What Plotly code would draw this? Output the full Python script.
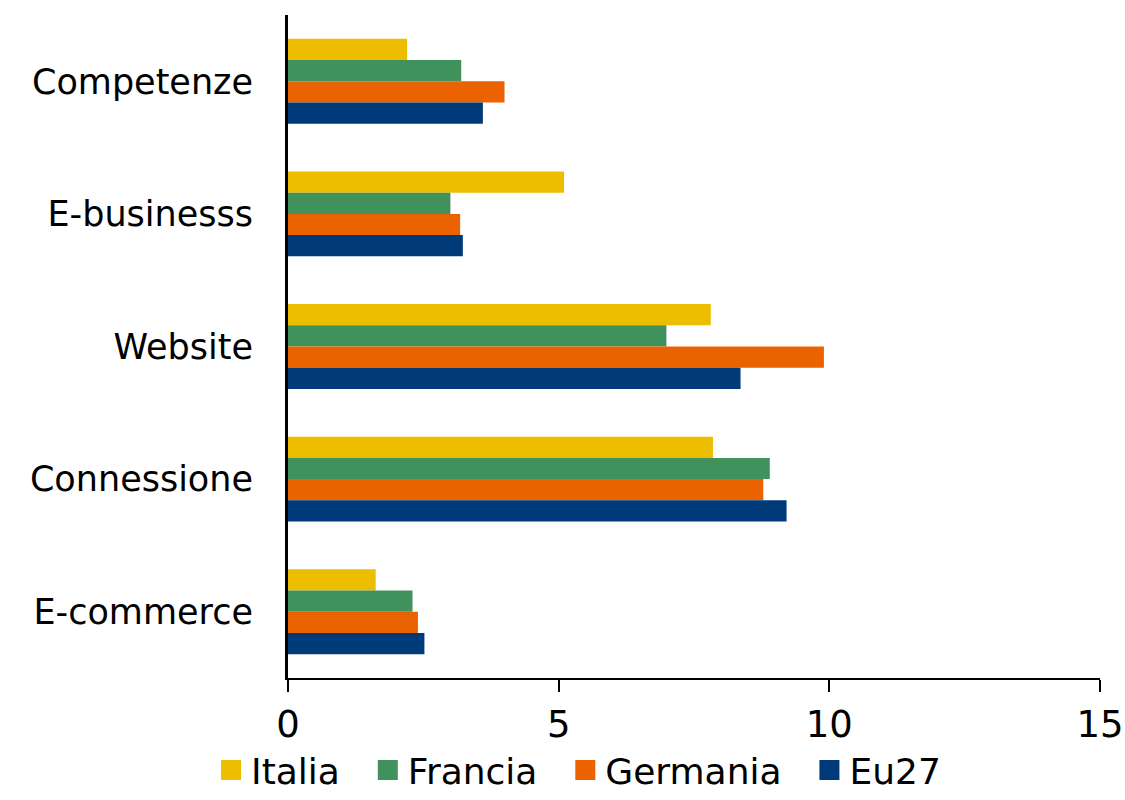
import plotly.graph_objects as go

categories = ["Competenze", "E-businesss", "Website", "Connessione", "E-commerce"]
series_names = ["Italia", "Francia", "Germania", "Eu27"]
italia = [2.20, 5.10, 7.81, 7.85, 1.62]
francia = [3.20, 3.00, 6.99, 8.90, 2.30]
germania = [4.00, 3.18, 9.90, 8.78, 2.40]
eu27 = [3.60, 3.23, 8.36, 9.21, 2.52]
colors = ["#EDBE00", "#41915C", "#EB6300", "#003A78"]
x_ticks = [0, 5, 10, 15]

FONT = "DejaVu Sans"
NBSP = "\u00a0"

fig = go.Figure()
for name, vals, col in zip(series_names, [italia, francia, germania, eu27], colors):
    fig.add_trace(go.Bar(
        y=categories, x=vals, name=name, orientation="h",
        marker=dict(color=col, line=dict(width=0)),
        showlegend=False,
    ))

# square swatches for the legend, spaced apart with trailing gaps
for i, (name, col) in enumerate(zip(series_names, colors)):
    label = name + (NBSP * 2 if i < len(series_names) - 1 else "")
    fig.add_trace(go.Scatter(
        x=[None], y=[None], mode="markers", name=label,
        marker=dict(symbol="square", size=16, color=col,
                    line=dict(color=col, width=4)),
    ))

fig.update_layout(
    width=1125, height=800,
    margin=dict(l=288, r=25, t=15, b=122, autoexpand=False),
    barmode="group", bargap=0.36, bargroupgap=0,
    plot_bgcolor="white", paper_bgcolor="white",
    font=dict(family=FONT, size=35, color="#000000"),
    showlegend=True,
    legend=dict(
        orientation="h", xref="container", yref="container",
        x=0.1876, xanchor="left", y=-0.0075, yanchor="bottom",
        font=dict(size=36), traceorder="normal", itemwidth=30,
        bgcolor="rgba(0,0,0,0)",
    ),
    xaxis=dict(
        range=[0, 15], tickvals=x_ticks, showgrid=False, zeroline=False,
        showline=True, linecolor="#000000", linewidth=2,
        ticks="outside", ticklen=12, tickwidth=2, tickcolor="#000000",
        tickfont=dict(size=37), ticklabelstandoff=1, automargin=False,
    ),
    yaxis=dict(
        type="category", autorange="reversed", showgrid=False, zeroline=False,
        showline=True, linecolor="#000000", linewidth=3,
        ticks="", tickfont=dict(size=35), ticklabelstandoff=25,
        automargin=False,
    ),
)

fig.write_html("out.html")
